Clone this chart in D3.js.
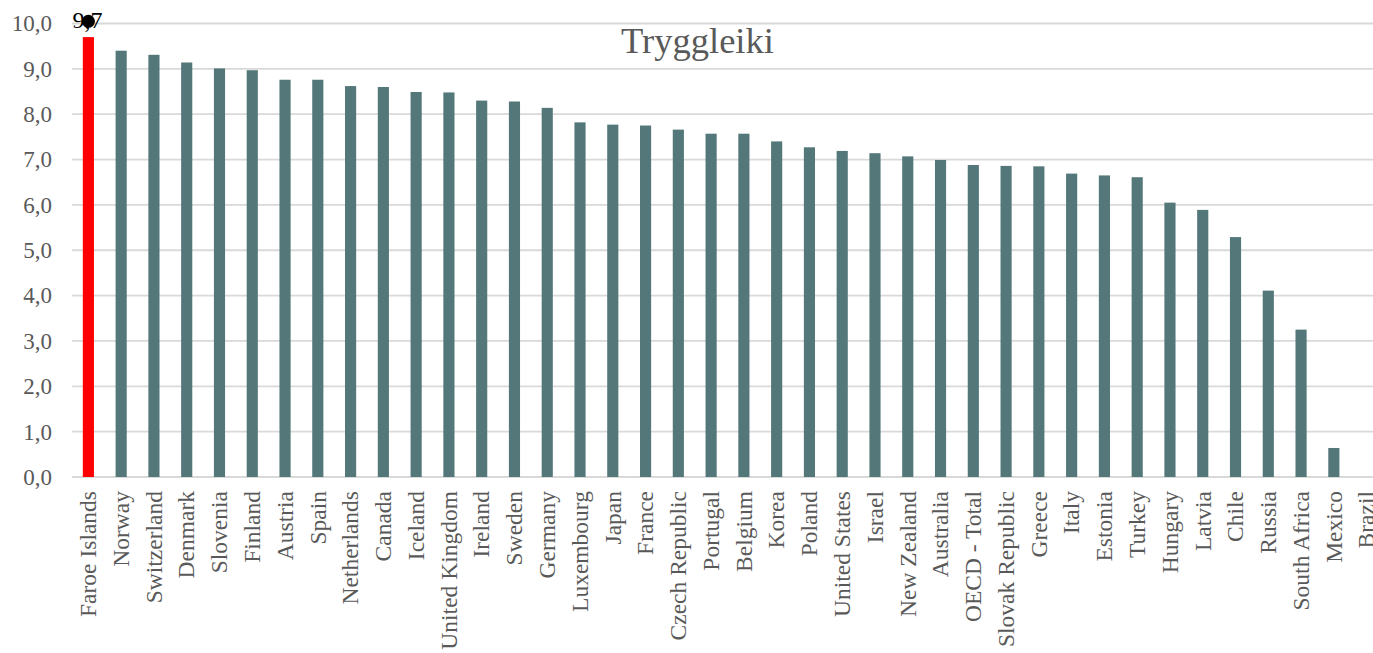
<!DOCTYPE html>
<html>
<head>
<meta charset="utf-8">
<script src="https://cdn.jsdelivr.net/npm/d3@7"></script>
<style>
  html, body { margin: 0; padding: 0; background: #fff; overflow: hidden; }
  text { font-family: "Liberation Serif", "Times New Roman", serif; }
</style>
</head>
<body>
<div id="chart"></div>
<script>
const countries = ["Faroe Islands", "Norway", "Switzerland", "Denmark", "Slovenia", "Finland",
  "Austria", "Spain", "Netherlands", "Canada", "Iceland", "United Kingdom", "Ireland", "Sweden",
  "Germany", "Luxembourg", "Japan", "France", "Czech Republic", "Portugal", "Belgium", "Korea",
  "Poland", "United States", "Israel", "New Zealand", "Australia", "OECD - Total",
  "Slovak Republic", "Greece", "Italy", "Estonia", "Turkey", "Hungary", "Latvia", "Chile",
  "Russia", "South Africa", "Mexico", "Brazil"];

const safety = [9.7, 9.4, 9.31, 9.14, 9.01, 8.97, 8.76, 8.76, 8.62, 8.6, 8.49, 8.48, 8.3, 8.28,
  8.14, 7.82, 7.77, 7.75, 7.66, 7.57, 7.57, 7.4, 7.27, 7.19, 7.14, 7.07, 6.99, 6.88, 6.86,
  6.85, 6.69, 6.65, 6.61, 6.05, 5.89, 5.29, 4.11, 3.25, 0.64, 0];

const yTicks = [0, 1, 2, 3, 4, 5, 6, 7, 8, 9, 10];
const highlight = "Faroe Islands";
const title = "Tryggleiki";

const data = countries.map((c, i) => ({ country: c, value: safety[i] }));

const width = 1373,
    height = 653,
    margin = ({ top: 23.5, right: -10, bottom: 176, left: 72 });

const svg = d3.select("#chart")
    .append("svg")
    .attr("width", width)
    .attr("height", height)
    .attr("viewBox", [0, 0, width, height]);

let x = d3.scaleBand()
    .domain(countries)
    .range([margin.left, width - margin.right])
    .paddingInner(0.66)
    .paddingOuter(0.33);

let y = d3.scaleLinear()
    .domain([0, 10])
    .range([height - margin.bottom, margin.top]);

const comma = d3.formatLocale({ decimal: ",", thousands: ".", grouping: [3], currency: ["", ""] }).format(".1f");

// gridlines
svg.append("g")
    .attr("class", "grid")
    .selectAll("line")
    .data(yTicks)
    .join("line")
    .attr("x1", margin.left)
    .attr("x2", width - margin.right)
    .attr("y1", d => y(d))
    .attr("y2", d => y(d))
    .attr("stroke", "#d9d9d9")
    .attr("stroke-width", 1.8);

// y axis labels
svg.append("g")
    .attr("transform", `translate(${margin.left},0)`)
    .attr("class", "y-axis")
    .call(d3.axisLeft(y).tickValues(yTicks).tickFormat(comma).tickSize(0).tickPadding(20))
    .call(g => g.select(".domain").remove())
    .call(g => g.selectAll("text")
        .attr("fill", "#595959")
        .style("font-family", "'Liberation Serif', 'Times New Roman', serif")
        .style("font-size", "23px"));

// bars
svg.append("g")
    .attr("class", "plot")
    .selectAll("rect")
    .data(data)
    .join("rect")
    .attr("x", d => x(d.country))
    .attr("y", d => y(d.value))
    .attr("width", x.bandwidth())
    .attr("height", d => y(0) - y(d.value))
    .attr("fill", d => d.country === highlight ? "#ff0000" : "#547779");

// x axis labels
svg.append("g")
    .attr("transform", `translate(0,${y(0)})`)
    .attr("class", "x-axis")
    .call(d3.axisBottom(x).tickSize(0).tickPadding(0))
    .call(g => g.select(".domain").remove())
    .call(g => g.selectAll("text")
        .attr("transform", "rotate(-90)")
        .attr("text-anchor", "end")
        .attr("x", -14)
        .attr("y", 0)
        .attr("dy", "0.33em")
        .attr("fill", "#595959")
        .style("font-family", "'Liberation Serif', 'Times New Roman', serif")
        .style("font-size", "23.5px"));

// highlighted point label
const hl = data.filter(d => d.country === highlight);

svg.append("g")
    .attr("class", "label")
    .selectAll("text")
    .data(hl)
    .join("text")
    .attr("x", d => x(d.country) + x.bandwidth() / 2 - 1)
    .attr("y", d => y(d.value) - 9.5)
    .attr("text-anchor", "middle")
    .attr("fill", "#000")
    .style("font-size", "24px")
    .text(d => comma(d.value));

svg.append("g")
    .attr("class", "marker")
    .selectAll("circle")
    .data(hl)
    .join("circle")
    .attr("cx", d => x(d.country) + x.bandwidth() / 2)
    .attr("cy", d => y(d.value) - 15.8)
    .attr("r", 6.5)
    .attr("fill", "#000");

svg.append("text")
    .attr("x", 697.5)
    .attr("y", 53)
    .attr("text-anchor", "middle")
    .attr("fill", "#595959")
    .style("font-size", "36.5px")
    .text(title);
</script>
</body>
</html>
